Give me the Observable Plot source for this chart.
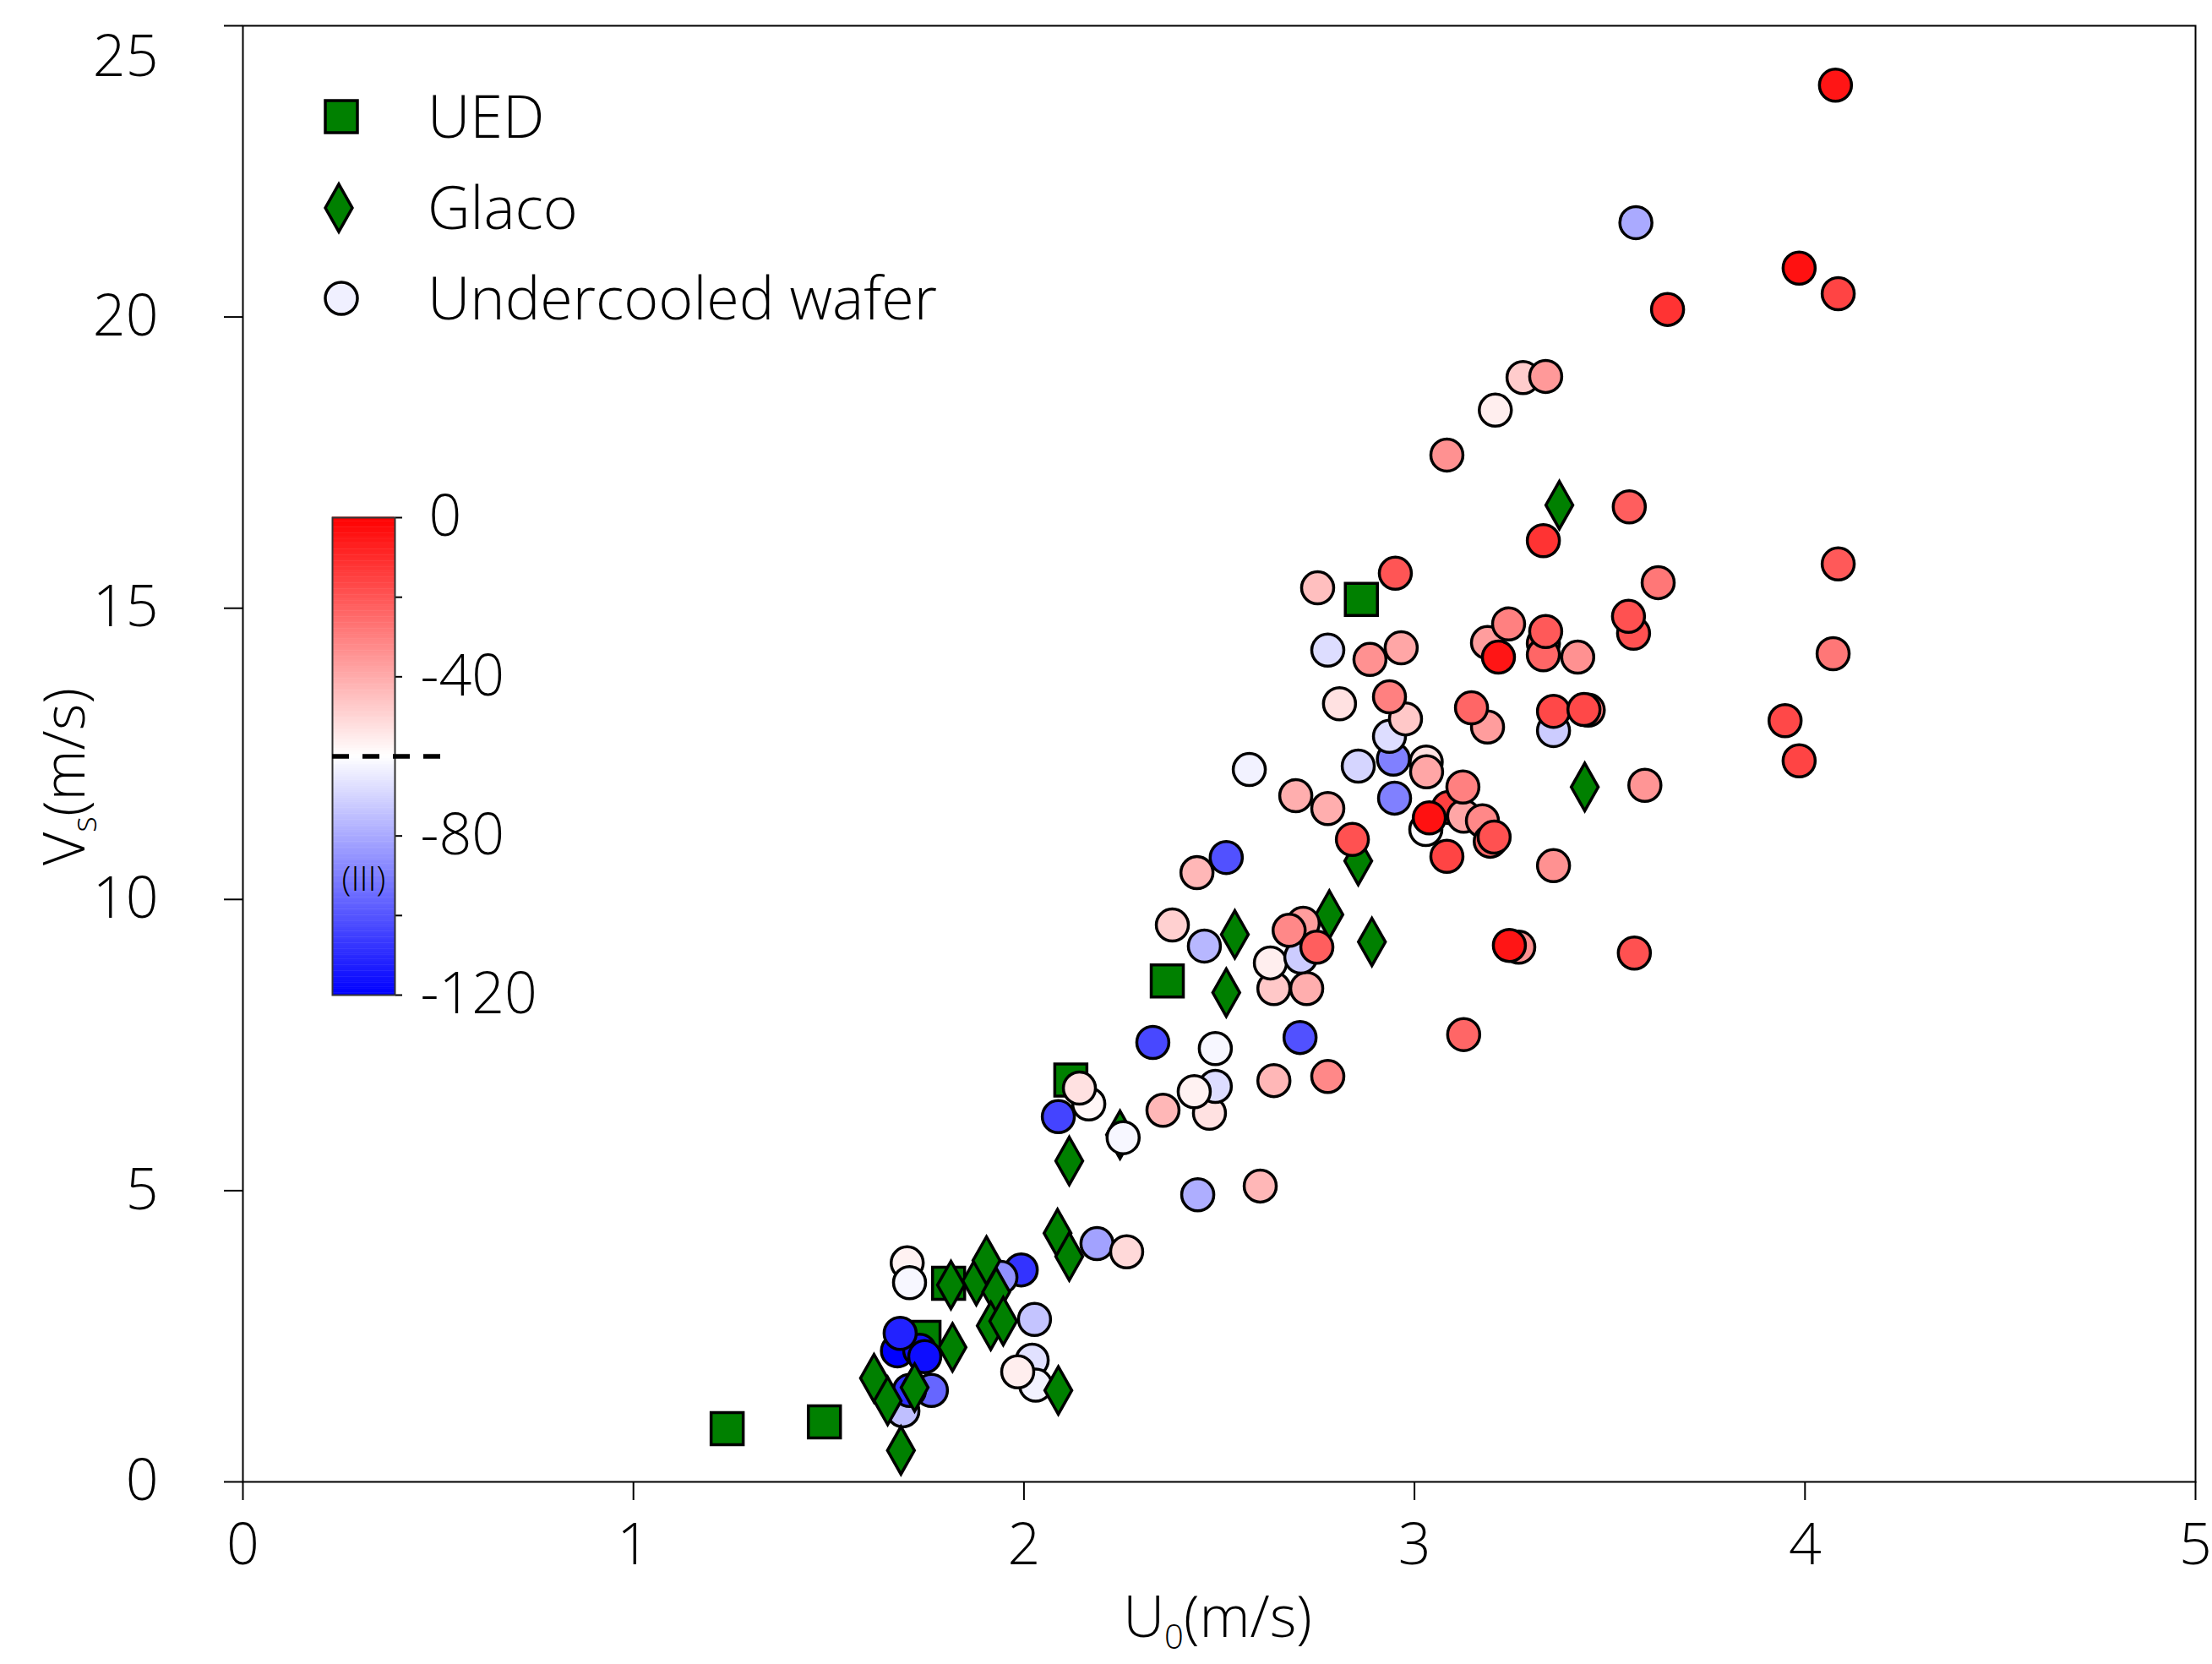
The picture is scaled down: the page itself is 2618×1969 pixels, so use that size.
<!DOCTYPE html>
<html>
<head>
<meta charset="utf-8">
<script src="https://cdn.jsdelivr.net/npm/d3@7"></script>
<script src="https://cdn.jsdelivr.net/npm/@observablehq/plot@0.6"></script>
<style>
html, body { margin: 0; padding: 0; background: #fff; overflow: hidden; }
#chart { position: relative; width: 2618px; height: 1969px; }
#chart svg { position: absolute; left: 0; top: 0; }
</style>
</head>
<body>
<div id="chart"></div>
<script>
// ---------------- data ----------------
const xTicks = [0, 1, 2, 3, 4, 5];
const yTicks = [0, 5, 10, 15, 20, 25];
const cbTicks = [-120, -100, -80, -60, -40, -20, 0];
const cbLabelled = [-120, -80, -40, 0];
const cbThreshold = -60;

const seriesNames = ["UED", "Glaco", "Undercooled wafer"];

const uedU = [1.240, 1.489, 1.744, 1.807, 2.120, 2.367, 2.864];
const uedV = [0.915, 1.03, 2.48, 3.41, 6.90, 8.60, 15.15];

const glacoU = [1.685, 1.616, 1.651, 1.720, 1.817, 1.813, 1.878, 1.904, 1.929, 1.915, 1.947, 2.088,
                2.086, 2.116, 2.116, 2.246, 2.518, 2.540, 2.782, 2.891, 2.856, 3.371, 3.436];
const glacoV = [0.54, 1.78, 1.39, 1.62, 2.31, 3.38, 3.45, 3.80, 3.26, 2.68, 2.76, 1.57,
                4.27, 3.87, 5.51, 5.96, 8.40, 9.40, 9.74, 9.27, 10.66, 16.77, 11.93];

// Undercooled wafer: U0 (m/s), Vs (m/s), temperature (colour value)
const waferU = [
  1.690, 1.763, 1.707, 1.676, 1.733, 1.683, 1.746, 1.701, 1.707, 1.993, 1.941, 2.027, 2.021, 2.030, 1.984,
  2.187, 2.088, 2.166, 2.142,
  2.263, 2.254, 2.445, 2.605, 2.356, 2.475, 2.490, 2.436, 2.330, 2.490, 2.640, 2.778, 2.707,
  2.640, 2.724, 2.631, 2.709, 2.715, 2.679, 2.750, 2.462, 2.380, 2.443, 2.518,
  3.126, 3.267, 3.243, 3.563, 3.356,
  2.841, 2.778, 2.696, 2.949, 2.856, 2.577, 3.029, 3.087, 3.126, 3.174, 3.124, 3.038, 3.194, 3.204, 3.083,
  3.030, 3.031, 2.946, 2.936, 2.977, 2.936, 2.808, 2.778, 2.886, 2.966, 2.752, 2.951,
  3.187, 3.146, 3.356, 3.356, 3.445, 3.434, 3.187, 3.215, 3.241, 3.330, 3.330, 3.336, 3.418,
  3.561, 3.548, 3.624, 3.330, 3.550, 3.590, 3.985, 3.949, 4.072, 4.085,
  3.083, 3.207, 3.278, 3.336, 3.648, 4.085, 3.985, 3.567, 4.078
];
const waferV = [
  1.22, 1.57, 1.57, 2.25, 2.26, 2.55, 2.15, 3.76, 3.42, 3.64, 3.51, 2.79, 2.09, 1.66, 1.89,
  4.09, 6.27, 6.49, 6.76,
  3.95, 5.91, 4.93, 5.08, 6.38, 6.33, 6.79, 6.70, 7.545, 7.44, 6.89, 6.96, 7.63,
  8.47, 8.47, 8.91, 9.01, 9.59, 9.47, 9.18, 9.20, 9.56, 10.46, 10.72,
  7.68, 9.18, 9.21, 9.08, 10.58,
  11.03, 11.56, 11.78, 11.74, 12.29, 12.23, 11.20, 11.58, 11.43, 11.35, 11.93, 11.40, 11.00, 11.07, 10.74,
  12.36, 12.19, 12.41, 12.80, 13.10, 13.48, 13.36, 14.28, 14.12, 14.32, 15.35, 15.60,
  12.96, 13.29, 12.90, 13.23, 13.25, 13.26, 14.41, 14.16, 14.73, 14.40, 14.20, 14.60, 14.16,
  14.57, 14.86, 15.44, 16.16, 16.74, 11.96, 12.38, 13.07, 14.22, 15.76,
  17.63, 18.40, 18.96, 18.98, 20.13, 20.40, 20.84, 21.62, 23.98
];
const waferT = [
  -75, -96, -109, -120, -116, -112, -117, -57, -62, -108, -86, -74, -67, -63, -56,
  -82, -104, -58, -53,
  -51, -62, -79, -43, -43, -53, -68, -57, -103, -62, -43, -32, -101,
  -47, -41, -56, -72, -37, -32, -22, -77, -49, -43, -101,
  -24, -34, -5, -19, -34,
  -19, -41, -41, -90, -70, -63, -61, -15, -39, -32, -30, -4, -25, -19, -16,
  -53, -39, -90, -68, -47, -30, -53, -68, -34, -39, -45, -20,
  -37, -24, -72, -17, -30, -17, -37, -5, -30, -25, -24, -21, -34,
  -19, -19, -28, -12, -22, -35, -16, -17, -28, -21,
  -34, -56, -48, -36, -12, -16, -4, -80, -5
];

// ---------------- tables for Plot ----------------
const ued = uedU.map((u, i) => ({U: u, V: uedV[i]}));
const glaco = glacoU.map((u, i) => ({U: u, V: glacoV[i]}));
const wafer = waferU.map((u, i) => ({U: u, V: waferV[i], T: waferT[i]}));

const FONT = "'Open Sans', 'Noto Sans', sans-serif";
const GREEN = "#008000";
const colorOpts = {type: "linear", domain: [-120, -60, 0], range: ["#0000ff", "#ffffff", "#ff0000"]};

// custom symbols (size = r*r*PI in Plot)
const symSquare = {draw(ctx, size) { const r = Math.sqrt(size / Math.PI);
  ctx.moveTo(-r, -r); ctx.lineTo(r, -r); ctx.lineTo(r, r); ctx.lineTo(-r, r); ctx.closePath(); }};
const symDiamond = {draw(ctx, size) { const r = Math.sqrt(size / Math.PI), a = r * 0.84, b = r * 1.48;
  ctx.moveTo(0, -b); ctx.lineTo(a, 0); ctx.lineTo(0, b); ctx.lineTo(-a, 0); ctx.closePath(); }};

const R = 19, SW = 3.5;

const main = Plot.plot({
  width: 2618, height: 1969,
  marginLeft: 287, marginRight: 20, marginTop: 30, marginBottom: 216,
  style: `font-family: ${FONT}; font-weight: 300; font-size: 68px; background: white; color: black; overflow: visible;`,
  x: {domain: [0, 5], ticks: xTicks, tickSize: 22, tickPadding: 27, label: null, tickFormat: d => String(d)},
  y: {domain: [0, 25], ticks: yTicks, tickSize: 22, tickPadding: 78, label: null, tickFormat: d => String(d)},
  color: colorOpts,
  marks: [
    Plot.frame({stroke: "black", strokeWidth: 2}),
    Plot.dot(ued, {x: "U", y: "V", symbol: symSquare, r: R, fill: GREEN, stroke: "black", strokeWidth: SW}),
    Plot.dot(wafer, {filter: d => d.U < 2.2, x: "U", y: "V", r: R, fill: "T", stroke: "black", strokeWidth: SW}),
    Plot.dot(glaco, {x: "U", y: "V", symbol: symDiamond, r: R, fill: GREEN, stroke: "black", strokeWidth: SW}),
    Plot.dot(wafer, {filter: d => d.U >= 2.2, x: "U", y: "V", r: R, fill: "T", stroke: "black", strokeWidth: SW})
  ]
});

const chart = document.getElementById("chart");
chart.appendChild(main);

const ms = d3.select(main);
ms.selectAll('g[aria-label*="tick"]').attr("stroke-width", 2);
ms.selectAll('g[aria-label*="axis"] .tick line').attr("stroke-width", 2);
// keep the top y label ("25") inside the picture, as in the reference
ms.selectAll('g[aria-label*="y-axis"] text').filter(function() { return this.textContent === "25"; })
  .attr("dy", "0.55em");

// axis titles with subscripts
const xl = ms.append("text").attr("x", 1441).attr("y", 1937).attr("text-anchor", "middle")
  .attr("font-size", 68).attr("fill", "black");
xl.append("tspan").attr("fill", "black").text("U");
xl.append("tspan").attr("fill", "black").attr("font-size", 40).attr("dy", 14).text("0");
xl.append("tspan").attr("fill", "black").attr("dy", -14).text("(m/s)");

const yl = ms.append("text").attr("transform", "translate(100,919) rotate(-90)").attr("text-anchor", "middle")
  .attr("font-size", 68).attr("fill", "black");
yl.append("tspan").attr("fill", "black").text("V");
yl.append("tspan").attr("fill", "black").attr("font-size", 40).attr("dy", 14).text("s");
yl.append("tspan").attr("fill", "black").attr("dy", -14).text("(m/s)");

// legend
const lg = ms.append("g");
const lgItems = [
  {name: seriesNames[0], y: 138, x: 404, sym: symSquare, fill: GREEN},
  {name: seriesNames[1], y: 246, x: 401, sym: symDiamond, fill: GREEN},
  {name: seriesNames[2], y: 353, x: 404, sym: null, fill: "#f0f0ff"}
];
for (const it of lgItems) {
  if (it.sym) {
    const p = d3.path(); it.sym.draw(p, R * R * Math.PI);
    lg.append("path").attr("d", p.toString()).attr("transform", `translate(${it.x},${it.y})`)
      .attr("fill", it.fill).attr("stroke", "black").attr("stroke-width", SW);
  } else {
    lg.append("circle").attr("cx", it.x).attr("cy", it.y).attr("r", R)
      .attr("fill", it.fill).attr("stroke", "black").attr("stroke-width", SW);
  }
  lg.append("text").attr("x", 506).attr("y", it.y).attr("dy", "0.36em").attr("font-size", 70)
    .attr("text-anchor", "start").attr("fill", "black").text(it.name);
}

// ---------------- colour bar ----------------
const cbSteps = d3.range(-120, 0, 0.5);
const cb = Plot.plot({
  width: 700, height: 1250,
  marginLeft: 393, marginRight: 233, marginTop: 612, marginBottom: 73,
  style: `font-family: ${FONT}; font-weight: 300; font-size: 68px; background: transparent; color: black; overflow: visible;`,
  x: {domain: [0, 1], axis: null},
  y: {domain: [-120, 0], axis: "right", ticks: cbTicks, tickSize: 8, tickPadding: 22, label: null,
      tickFormat: d => cbLabelled.includes(d) ? (d === 0 ? "0" : "-" + Math.abs(d)) : ""},
  color: colorOpts,
  marks: [
    Plot.rect(cbSteps, {x1: 0, x2: 1, y1: d => d, y2: d => d + 0.6, fill: d => d + 0.25}),
    Plot.frame({stroke: "#333", strokeWidth: 2}),
    Plot.ruleY([cbThreshold], {x1: 0, x2: 1.74, stroke: "black", strokeWidth: 5.5, strokeDasharray: "20,16"}),
    Plot.text(["(III)"], {x: () => 0.5, y: () => -91, text: d => d, fontSize: 40, fill: "black"})
  ]
});
chart.appendChild(cb);
const cs = d3.select(cb);
cs.selectAll('g[aria-label*="tick"]').attr("stroke-width", 2);
cs.selectAll('g[aria-label*="axis"] .tick line').attr("stroke-width", 2);
// the "0" label sits a little further right in the reference
cs.selectAll('g[aria-label*="y-axis"] text').filter(function() { return this.textContent === "0"; })
  .attr("dx", 10);
</script>
</body>
</html>
